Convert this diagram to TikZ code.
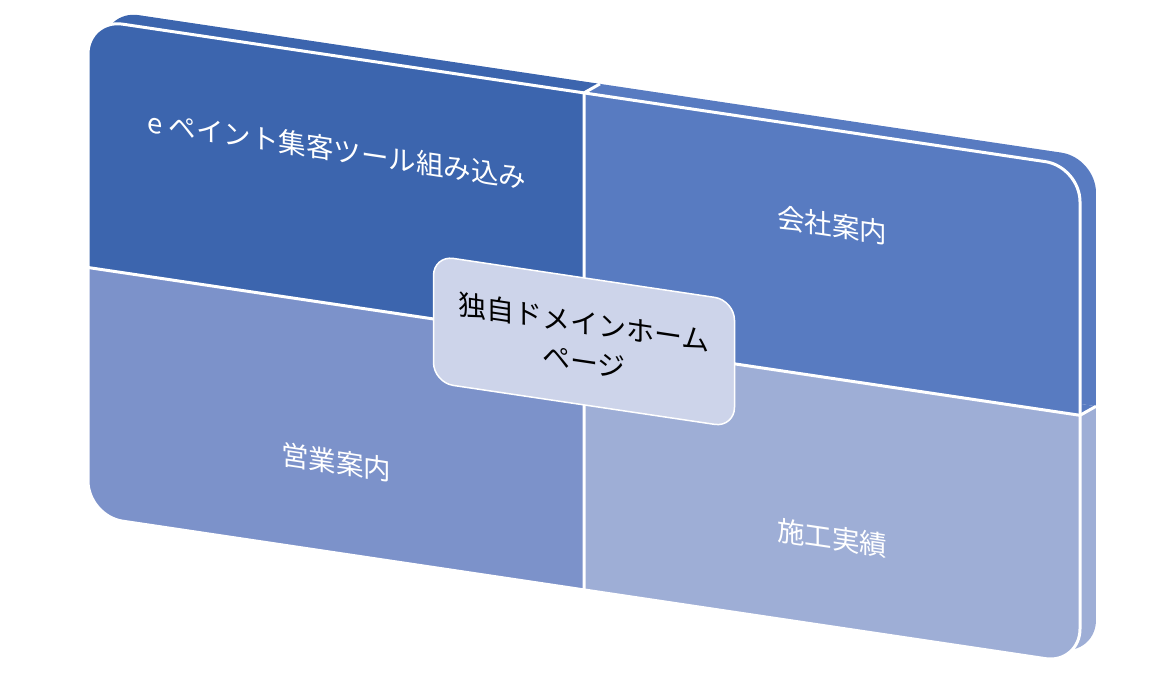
\documentclass[tikz,border=0pt]{standalone}
\usepackage{fontspec}
\newfontfamily\jpfont{Noto Sans CJK JP}
\definecolor{tlblue}{RGB}{60,101,174}
\definecolor{trblue}{RGB}{88,123,193}
\definecolor{blblue}{RGB}{124,146,202}
\definecolor{brblue}{RGB}{158,174,214}
\definecolor{hubblue}{RGB}{205,212,234}
\tikzset{x=1pt, y=1pt,
  cell/.style={text=white, font=\jpfont\fontsize{27.5}{32}\selectfont},
  hub/.style={draw=white, line width=1.5pt, fill=hubblue, rounded corners=20pt,
    minimum width=301pt, minimum height=127pt, align=center,
    font=\jpfont\fontsize{28}{39}\selectfont},
  seam/.style={draw=white, line width=3pt}}

\begin{document}
\begin{tikzpicture}
\useasboundingbox (0,0) rectangle (1167,672);
\begin{scope}[shift={(88,653)}, yslant=-0.149, transform shape]
% back face
\begin{scope}[shift={(16,11.4)}]
\clip[rounded corners=35pt] (0,0) rectangle (992,-497);
\fill[tlblue] (0,0) rectangle (496,-248.5);
\fill[trblue] (496,0) rectangle (992,-248.5);
\fill[blblue] (0,-248.5) rectangle (496,-497);
\fill[brblue] (496,-248.5) rectangle (992,-497);
\end{scope}
\fill[trblue] (496,0) -- (512,11.4) -- (512,0) -- cycle;
\fill[trblue] (992,-248.5) -- (1008,-237.1) -- (992,-237.1) -- cycle;
\draw[seam] (496,0) -- (512,11.4) (992,-248.5) -- (1008,-237.1);
% front face
\begin{scope}
\clip[rounded corners=35pt] (0,0) rectangle (992,-497);
\fill[tlblue] (0,0) rectangle (496,-248.5);
\fill[trblue] (496,0) rectangle (992,-248.5);
\fill[blblue] (0,-248.5) rectangle (496,-497);
\fill[brblue] (496,-248.5) rectangle (992,-497);
\end{scope}
\draw[seam, rounded corners=35pt] (0,0) rectangle (992,-497);
\draw[seam] (496,0) -- (496,-497) (0,-248.5) -- (992,-248.5);

\node[cell] (tool) at (249,-94) {e ペイント集客ツール組み込み};
\node[cell] (company) at (744,-95) {会社案内};
\node[cell] (sales) at (248,-406) {営業案内};
\node[cell] (works) at (744,-408) {施工実績};
\node[hub] (home) at (496,-248.5) {独自ドメインホーム\\ページ};
\end{scope}
\end{tikzpicture}
\end{document}
